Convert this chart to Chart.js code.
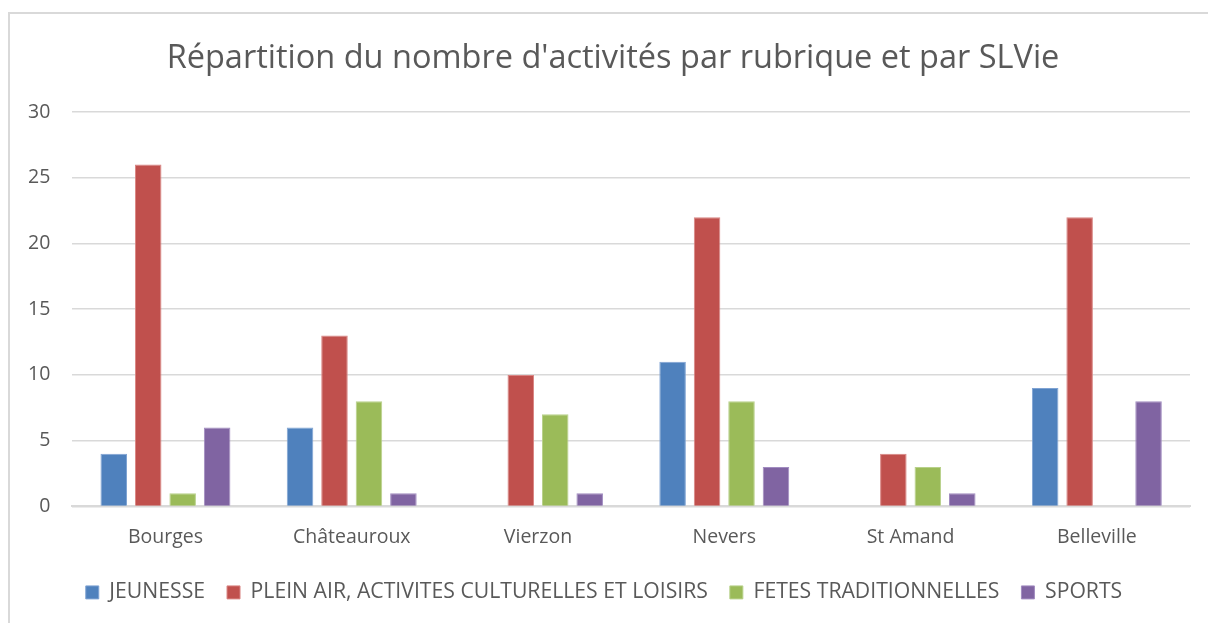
<!DOCTYPE html>
<html><head><meta charset="utf-8">
<script src="https://cdn.jsdelivr.net/npm/chart.js@4"></script>
<style>
html,body{margin:0;padding:0;background:#fff;overflow:hidden}
#wrap{position:absolute;left:0;top:0;width:1208px;height:623px}
#frame{position:absolute;left:8px;top:12px;width:1300px;height:700px;border:2px solid #d9d9d9;box-sizing:border-box}
canvas{position:absolute;left:0;top:0}
</style></head>
<body><div id="wrap"><div id="frame"></div><canvas id="c" width="1208" height="623"></canvas></div>
<script>
const categories = ["Bourges","Châteauroux","Vierzon","Nevers","St Amand","Belleville"];
const jeunesse = [4,6,null,11,null,9];
const pleinAir = [26,13,10,22,4,22];
const fetes = [1,8,7,8,3,null];
const sports = [6,1,1,3,1,8];
const seriesNames = ["JEUNESSE","PLEIN AIR, ACTIVITES CULTURELLES ET LOISIRS","FETES TRADITIONNELLES","SPORTS"];
const colors = ["#4f81bd","#c0504d","#9bbb59","#8064a2"];
const borders = ["#7fa3d3","#d98583","#b8d18a","#a18cc0"];
const title = "Répartition du nombre d'activités par rubrique et par SLVie";
const FONT = "'Open Sans', sans-serif";
const TXT = "#595959";

const shiftPlugin = {
  id:'shift',
  afterLayout(chart){
    if(chart.titleBlock){ chart.titleBlock.left += 30; }
    if(chart.legend){ chart.legend.left += 6; chart.legend.right += 6; }
  }
};

const data = [jeunesse,pleinAir,fetes,sports];
new Chart(document.getElementById('c'), {
  type: 'bar',
  data: {
    labels: categories,
    datasets: data.map((d,i)=>({label:seriesNames[i],data:d,backgroundColor:colors[i],borderColor:borders[i],borderWidth:1}))
  },
  plugins:[shiftPlugin],
  options: {
    responsive:false, animation:false,
    devicePixelRatio:1,
    layout:{padding:{left:6,right:18,top:14,bottom:10}},
    datasets:{bar:{categoryPercentage:0.74,barPercentage:0.77}},
    plugins:{
      title:{display:true,text:title,color:TXT,font:{family:FONT,size:32.5,weight:'normal'},padding:{top:25,bottom:34}},
      legend:{position:'bottom',labels:{color:TXT,font:{family:FONT,size:21.2},boxWidth:13,boxHeight:13,padding:22},},
      tooltip:{enabled:false}
    },
    scales:{
      x:{grid:{display:false},border:{display:true,color:'#d9d9d9',width:2},ticks:{color:TXT,font:{family:FONT,size:19.5},padding:11}},
      y:{min:0,max:30,ticks:{stepSize:5,color:TXT,font:{family:FONT,size:19.5},padding:22},grid:{color:'#d9d9d9',lineWidth:1.5,drawTicks:false},border:{display:false}}
    }
  }
});
</script></body></html>
